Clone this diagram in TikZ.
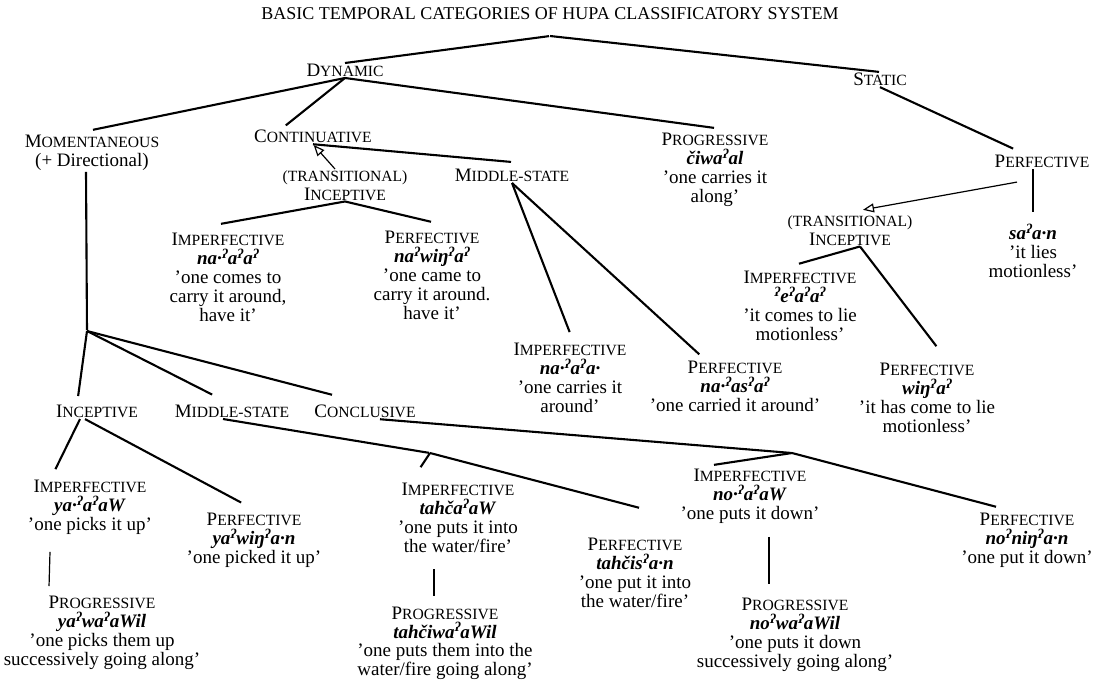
\documentclass[tikz,border=0pt]{standalone}
\usepackage{fontspec}
\setmainfont{Liberation Serif}
\usepackage{tikz}
\usetikzlibrary{arrows,arrows.meta}

\newcommand\cat[2]{#1{\fontsize{15.6}{15.6}\selectfont #2}}
\newcommand\form[1]{\textbf{\textit{#1}}}
\newcommand\gs{\textsuperscript{ʔ}}

\begin{document}
\begin{tikzpicture}[x=1pt,y=-1pt,>=stealth',shorten >=1pt]
\useasboundingbox (0,0) rectangle (1099,681);
\tikzset{lab/.style={anchor=north,align=center,inner sep=1pt,font=\fontsize{19}{19}\selectfont}}
\tikzset{branch/.style={-,line width=2.1pt}}
\tikzset{tick/.style={-,line width=1.2pt}}
\tikzset{derive/.style={-{Triangle[open,length=11pt,width=9pt]},line width=1.2pt}}

  \node[lab,font=\fontsize{18}{18}\selectfont] (title) at (550,6) {BASIC TEMPORAL CATEGORIES OF HUPA CLASSIFICATORY SYSTEM};
  \coordinate (top) at (550,36);

  % dynamic side
  \node[lab] (dyn)    at (345,63)  {\cat{D}{YNAMIC}};
  \node[lab] (mom)    at (92,134)  {\cat{M}{OMENTANEOUS}\\(+ Directional)};
  \node[lab] (cont)   at (313,129) {\cat{C}{ONTINUATIVE}};
  \node[lab] (prog)   at (715,132) {\cat{P}{ROGRESSIVE}\\\form{čiwa\gs al}\\'one carries it\\along'};
  \node[lab] (tinc1)  at (345,169) {\cat{}{(TRANSITIONAL)}\\\cat{I}{NCEPTIVE}};
  \node[lab] (mids1)  at (512,168) {\cat{M}{IDDLE-STATE}};
  \node[lab] (ipf1)   at (228,232) {\cat{I}{MPERFECTIVE}\\\form{na·\gs a\gs a\gs}\\'one comes to\\carry it around,\\have it'};
  \node[lab] (pf1)    at (432,230) {\cat{P}{ERFECTIVE}\\\form{na\gs wiŋ\gs a\gs}\\'one came to\\carry it around.\\have it'};
  \node[lab] (ipf2)   at (570,342) {\cat{I}{MPERFECTIVE}\\\form{na·\gs a\gs a·}\\'one carries it\\around'};
  \node[lab] (pf2)    at (735,360) {\cat{P}{ERFECTIVE}\\\form{na·\gs as\gs a\gs}\\'one carried it around'};

  % static side
  \node[lab] (stat)   at (880,72)  {\cat{S}{TATIC}};
  \node[lab] (spf)    at (1042,154) {\cat{P}{ERFECTIVE}};
  \node[lab] (saan)   at (1033,223) {\form{sa\gs a·n}\\'it lies\\motionless'};
  \node[lab] (tinc2)  at (850,214) {\cat{}{(TRANSITIONAL)}\\\cat{I}{NCEPTIVE}};
  \node[lab] (ipf3)   at (800,270) {\cat{I}{MPERFECTIVE}\\\form{\gs e\gs a\gs a\gs}\\'it comes to lie\\motionless'};
  \node[lab] (pf3)    at (927,362) {\cat{P}{ERFECTIVE}\\\form{wiŋ\gs a\gs}\\'it has come to lie\\motionless'};

  % momentaneous
  \coordinate (mjunc) at (87,331);
  \node[lab] (inc)    at (97,404)  {\cat{I}{NCEPTIVE}};
  \node[lab] (mids2)  at (232,404) {\cat{M}{IDDLE-STATE}};
  \node[lab] (concl)  at (365,404) {\cat{C}{ONCLUSIVE}};
  \node[lab] (ipf4)   at (90,479)  {\cat{I}{MPERFECTIVE}\\\form{ya·\gs a\gs aW}\\'one picks it up'};
  \node[lab] (pf4)    at (254,512) {\cat{P}{ERFECTIVE}\\\form{ya\gs wiŋ\gs a·n}\\'one picked it up'};
  \node[lab] (prog4)  at (102,595) {\cat{P}{ROGRESSIVE}\\\form{ya\gs wa\gs aWil}\\'one picks them up\\successively going along'};
  \coordinate (m2j) at (430,453);
  \node[lab] (ipf5)   at (458,482) {\cat{I}{MPERFECTIVE}\\\form{tahča\gs aW}\\'one puts it into\\the water/fire'};
  \node[lab] (pf5)    at (635,537) {\cat{P}{ERFECTIVE}\\\form{tahčis\gs a·n}\\'one put it into\\the water/fire'};
  \node[lab,font=\fontsize{19}{18.6}\selectfont] (prog5)  at (445,606) {\cat{P}{ROGRESSIVE}\\\form{tahčiwa\gs aWil}\\'one puts them into the\\water/fire going along'};
  \coordinate (cjunc) at (792,453);
  \node[lab] (ipf6)   at (750,468) {\cat{I}{MPERFECTIVE}\\\form{no·\gs a\gs aW}\\'one puts it down'};
  \node[lab] (pf6)    at (1027,512) {\cat{P}{ERFECTIVE}\\\form{no\gs niŋ\gs a·n}\\'one put it down'};
  \node[lab] (prog6)  at (795,597) {\cat{P}{ROGRESSIVE}\\\form{no\gs wa\gs aWil}\\'one puts it down\\successively going along'};

\path (dyn.north) edge [branch] (top)
      (top)       edge [branch] (stat.north)
      (dyn.south) edge [branch] ([yshift=4pt]mom.north)
      (dyn.south) edge [branch] ([xshift=-28pt,yshift=3pt]cont.north)
      (dyn.south) edge [branch] ([yshift=4pt]prog.north)
      (cont.south) edge [branch] ([yshift=6pt]mids1.north)
      ([xshift=-10pt]tinc1.north) edge [derive] (cont.south)
      (tinc1.south) edge [branch] ([xshift=-8pt,yshift=8pt]ipf1.north)
      (tinc1.south) edge [branch] ([yshift=8pt]pf1.north)
      (mids1.south) edge [branch] ([yshift=9pt]ipf2.north)
      (mids1.south) edge [branch] ([xshift=-35pt,yshift=5pt]pf2.north)
      (stat.south) edge [branch] ([xshift=-28pt,yshift=5pt]spf.north)
      ([xshift=-25pt,yshift=-13pt]spf.south) edge [derive] ([xshift=12pt,yshift=4pt]tinc2.north)
      (saan.north |- spf.south) edge [tick] ([yshift=10pt]saan.north)
      ([xshift=10pt]tinc2.south) edge [branch] ([xshift=-2pt,yshift=6pt]ipf3.north)
      ([xshift=10pt]tinc2.south) edge [branch] ([xshift=10pt,yshift=15pt]pf3.north);
\path ([xshift=-6pt]mom.south) edge [branch] (mjunc)
      (mjunc) edge [branch] ([xshift=-19pt,yshift=7pt]inc.north)
      (mjunc) edge [branch] ([xshift=-19pt,yshift=9pt]mids2.north)
      (mjunc) edge [branch] ([xshift=-32pt,yshift=9pt]concl.north)
      ([xshift=-17pt]inc.south) edge [branch] ([xshift=-35pt,yshift=9pt]ipf4.north)
      ([xshift=-12pt]inc.south) edge [branch] ([xshift=-12pt,yshift=9pt]pf4.north)
      ([xshift=-40pt,yshift=-16pt]ipf4.south) edge [tick] ([xshift=-53pt,yshift=8pt]prog4.north)
      ([xshift=-9pt]mids2.south) edge [branch] (m2j)
      (m2j) edge [branch] ([xshift=5pt,yshift=29pt]pf5.north)
      (m2j) edge [branch] ([xshift=-38pt,yshift=14pt]ipf5.north)
      ([xshift=-24pt,yshift=-15pt]ipf5.south) edge [tick] ([xshift=-11pt,yshift=9pt]prog5.north)
      ([xshift=15pt]concl.south) edge [branch] (cjunc)
      (cjunc) edge [branch] ([xshift=-37pt,yshift=3pt]ipf6.north)
      (cjunc) edge [branch] ([xshift=-30pt,yshift=5pt]pf6.north)
      ([xshift=19pt,yshift=-12pt]ipf6.south) edge [tick] ([xshift=-26pt,yshift=12pt]prog6.north);
\end{tikzpicture}
\end{document}
